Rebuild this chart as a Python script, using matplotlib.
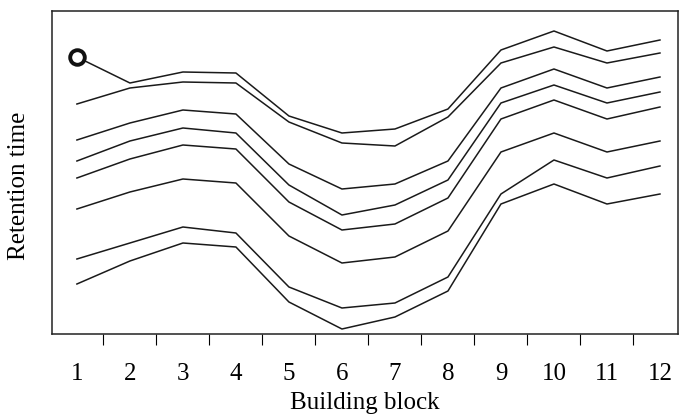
import numpy as np
import matplotlib
matplotlib.use("Agg")
import matplotlib.pyplot as plt
from matplotlib.ticker import FixedLocator

# building blocks on the x axis
blocks = list(range(1, 13))

# retention time (arbitrary units), one list per curve, top to bottom
rt_1 = [277, 251, 262, 261, 218, 201, 205, 225, 284, 303, 283, 294]
rt_2 = [230, 246, 252, 251, 212, 191, 188, 217, 271, 287, 271, 281]
rt_3 = [194, 211, 224, 220, 170, 145, 150, 173, 246, 265, 246, 257]
rt_4 = [173, 193, 206, 201, 149, 119, 129, 154, 231, 249, 231, 242]
rt_5 = [156, 175, 189, 185, 132, 104, 110, 136, 215, 234, 215, 227]
rt_6 = [125, 142, 155, 151, 98, 71, 77, 103, 182, 201, 182, 193]
rt_7 = [75, 91, 107, 101, 47, 26, 31, 57, 140, 174, 156, 168]
rt_8 = [50, 73, 91, 87, 32, 5, 17, 43, 130, 150, 130, 140]
curves = [rt_1, rt_2, rt_3, rt_4, rt_5, rt_6, rt_7, rt_8]

plt.rcParams["font.family"] = ["Liberation Serif", "DejaVu Serif"]

fig = plt.figure(figsize=(6.8, 4.19), dpi=100)
ax = fig.add_axes([52/680, 85/419, 626/680, 323/419])

for rt in curves:
    ax.plot(blocks, rt, color="#1a1a1a", lw=1.1)

# open circle marking the first point of the top curve
ax.plot(blocks[0], rt_1[0], marker="o", ms=10.5, mfc="white", mec="#111111", mew=2.8)

ax.set_xlim(0.53, 12.34)
ax.set_ylim(0, 323)

ax.xaxis.set_major_locator(FixedLocator(blocks))
ax.xaxis.set_minor_locator(FixedLocator([b + 0.5 for b in blocks[:-1]]))
ax.tick_params(axis="x", which="major", length=0, pad=21, labelsize=18)
ax.tick_params(axis="x", which="minor", length=8, width=0.8, direction="out")
ax.set_yticks([])

for s in ax.spines.values():
    s.set_linewidth(1.1)
    s.set_color("#222222")

ax.set_xlabel("Building block", fontsize=18, labelpad=5)
ax.set_ylabel("Retention time", fontsize=18)
ax.yaxis.set_label_coords(-0.035, 0.46)

fig.savefig("out.png", dpi=100)
